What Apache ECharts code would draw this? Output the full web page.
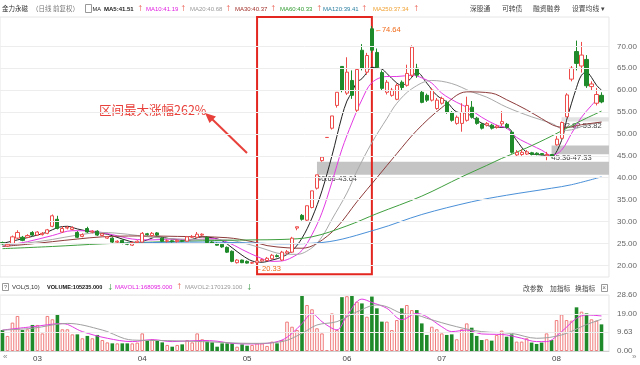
<!DOCTYPE html>
<html><head><meta charset="utf-8">
<script src="https://cdn.jsdelivr.net/npm/echarts@6/dist/echarts.min.js"></script>
<style>html,body{margin:0;padding:0;background:#fff}#c{width:640px;height:365px}</style>
</head><body><div id="c"></div>
<script>
// ---------- DATA ----------
const tradingDays = {
  '02': [20,21,22,25,26,27,28],
  '03': [1,4,5,6,7,8,11,12,13,14,15,18,19,20,21,22,25,26,27,28,29],
  '04': [1,2,3,4,8,9,10,11,12,15,16,17,18,19,22,23,24,25,26,29,30],
  '05': [6,7,8,9,10,13,14,15,16,17,20,21,22,23,24,27,28,29,30,31],
  '06': [3,4,5,6,10,11,12,13,14,17,18,19,20,21,24,25,26,27,28],
  '07': [1,2,3,4,5,8,9,10,11,12,15,16,17,18,19,22,23,24,25,26,29,30,31],
  '08': [1,2,5,6,7,8,9,12,13,14]
};
const openP = [25.2,24.4,25.0,26.2,26.4,26.4,27.5, 26.9,27.0,27.3,28.9,30.5,27.6,28.5,28.2,27.5,26.6,28.4,27.6,27.8,26.8,26.2,26.2,25.3,25.7,25.0,24.6,25.2,
  25.3,27.2,26.8,27.4,26.2,25.5,25.6,25.4,25.6,25.5,26.4,26.4,26.9,26.4,25.3,25.0,24.8,24.1,23.2,20.6,21.2,
  20.9,20.5,20.6,21.0,21.1,21.5,22.2,21.2,22.8,23.0,28.5,31.4,30.3,33.2,37.6,43.9,49.17,51.3,56.5,65.4,
  59.3,62.2,55.4,69.1,64.1,74.0,68.6,64.0,59.5,58.8,57.9,61.8,61.1,63.4,65.0,59.5,58.8,57.7,55.8,
  57.0,57.2,54.9,52.4,52.4,53.1,56.1,53.6,52.2,52.0,52.0,51.5,52.3,52.2,50.4,45.2,45.3,45.4,45.7,45.6,45.5,45.0,45.3,
  47.5,49.0,53.9,62.5,68.8,65.5,67.0,60.8,57.0,58.8];
const closeP = [24.9,24.8,26.5,27.5,25.7,26.8,26.9, 27.6,27.3,28.1,31.3,28.4,28.4,28.7,28.6,26.4,27.0,27.6,27.8,26.9,27.2,26.5,25.3,25.5,25.0,24.8,25.2,25.5,
  27.3,27.0,27.3,26.9,25.5,25.6,25.4,25.7,25.5,26.5,26.6,27.1,27.1,25.2,25.1,24.6,24.2,23.0,20.9,21.2,20.6,
  20.5,20.6,21.0,21.3,21.6,22.3,22.0,23.0,23.1,26.2,28.8,30.5,33.6,37.0,40.66,44.7,49.2,54.1,59.5,60.0,
  64.1,58.8,64.7,65.0,67.9,69.1,65.2,60.4,61.8,60.0,61.1,60.6,63.8,69.8,63.4,57.2,57.7,60.0,57.7,
  58.1,54.9,53.1,53.8,54.9,56.5,53.8,52.4,51.3,52.4,51.3,51.8,52.8,51.5,45.8,45.8,45.8,45.9,45.3,45.3,45.3,45.3,44.9,
  48.8,52.6,58.9,65.0,66.1,68.0,61.0,61.4,59.0,57.3];
const lowP = [24.7,24.2,24.9,26.0,25.5,26.2,26.7, 26.7,26.8,27.1,28.7,28.2,27.4,28.2,28.0,26.2,26.4,27.4,27.3,26.7,26.6,26.0,25.1,25.1,24.8,24.6,24.4,25.0,
  25.2,26.8,26.6,26.7,25.3,25.2,25.2,25.2,25.3,25.4,26.2,26.2,26.7,25.0,24.9,24.5,24.0,22.8,20.7,20.4,20.5,
  20.4,20.33,20.5,20.8,20.9,21.3,21.8,21.0,22.5,22.8,28.0,30.2,30.0,33.0,37.3,43.64,49.1,51.0,56.0,59.5,
  58.9,58.0,54.8,64.5,63.5,68.5,64.8,60.0,59.0,58.5,57.7,60.0,60.8,63.0,62.8,57.0,57.3,57.4,55.5,
  56.7,54.6,52.8,52.1,50.5,52.8,53.5,52.1,51.0,51.7,51.0,51.2,51.8,51.2,45.5,44.9,45.0,45.2,45.1,45.1,45.1,44.0,44.6,
  47.33,48.8,53.82,62.0,64.5,64.0,60.5,60.0,56.5,57.0];
const highP = [25.4,25.0,26.8,28.0,26.7,27.1,27.8, 27.8,27.6,28.3,31.6,31.3,28.9,29.0,28.9,27.8,27.3,28.8,28.0,28.0,27.4,26.7,26.4,25.7,25.9,25.2,25.4,25.7,
  27.6,27.4,27.6,27.6,26.4,25.9,25.8,25.9,25.8,26.7,26.9,27.6,27.3,26.6,25.5,25.2,25.0,24.3,23.4,21.4,21.3,
  21.1,20.8,21.2,21.5,21.9,22.6,22.5,23.3,23.5,26.5,28.8,31.7,33.6,37.0,40.66,44.7,49.25,54.1,59.5,65.45,
  67.5,64.5,64.7,70.5,68.5,74.64,69.5,64.5,62.3,60.5,61.5,62.2,65.8,70.2,66.0,60.0,59.2,60.5,58.2,
  58.5,57.6,55.2,54.2,57.0,58.5,57.5,53.9,52.5,52.7,52.3,52.1,55.2,52.5,50.8,46.3,46.5,46.3,45.9,45.8,45.6,45.9,45.36,
  49.5,52.82,59.3,65.5,71.3,71.0,68.0,62.0,60.5,59.5];
const volume = [10.7,7.7,14.5,17.9,10.7,11.1,13.3, 13.3,9.0,17.9,16.2,18.7,11.1,11.1,8.5,8.5,6.5,7.7,6.5,8.2,5.6,4.4,3.9,3.9,3.9,3.9,3.9,4.3,
  9.0,5.1,6.0,5.1,4.4,3.1,2.2,3.1,3.4,5.6,4.4,9.0,6.0,4.8,4.4,2.2,3.9,3.9,3.9,2.2,3.4,
  2.7,3.1,3.9,3.9,2.6,4.8,3.9,5.6,15.0,12.4,10.7,28.6,23.5,21.3,11.6,9.0,0.5,19.2,10.7,27.5,
  28.0,28.4,25.2,24.3,17.5,27.8,21.8,15.0,15.0,10.7,15.8,21.8,23.5,20.9,20.9,14.1,8.2,12.4,11.1,
  9.0,8.2,8.5,6.0,11.1,14.1,11.9,7.7,5.6,6.0,5.3,8.2,10.4,7.3,8.5,4.8,4.8,6.5,4.3,3.6,4.3,9.0,5.6,
  15.8,18.7,15.8,15.5,22.3,20.1,19.2,16.2,15.5,13.6];
// moving-average lines: [day index, value]
const ma5 = [[0,25.0],[3,25.8],[6,26.6],[9,27.6],[11,28.6],[13,28.9],[15,28.3],[18,27.6],[21,27.1],[24,26.0],[27,25.2],[29,25.8],[31,26.5],[34,26.0],[37,25.7],[40,26.5],[42,26.3],[44,25.6],[46,24.0],[48,22.3],[50,21.0],[52,20.7],[54,21.2],[56,21.9],[58,23.3],[60,26.2],[62,30.8],[64,37.0],[66,45.0],[68,54.0],[69,57.5],[70,59.5],[71,61.8],[72,62.6],[73,64.0],[74,65.2],[76,64.8],[77,63.8],[79,61.6],[80,61.1],[82,62.9],[83,64.1],[85,61.6],[87,58.8],[89,57.3],[91,55.0],[93,54.7],[95,53.1],[97,52.0],[99,51.5],[101,51.5],[103,48.5],[105,45.8],[107,45.3],[109,45.1],[110,44.9],[112,48.5],[113,53.1],[115,60.6],[116,63.4],[117,64.1],[118,62.9],[119,61.1],[120,60.0]];
const ma10 = [[0,24.4],[5,25.4],[10,26.8],[14,27.9],[18,27.8],[22,27.0],[26,26.0],[30,25.8],[34,26.0],[38,25.8],[42,26.1],[45,25.3],[48,23.6],[51,22.0],[54,20.9],[56,21.0],[58,21.8],[60,23.4],[62,27.0],[64,32.0],[66,39.0],[68,46.5],[70,52.5],[72,57.8],[74,61.7],[77,63.1],[79,63.1],[82,63.4],[84,62.8],[86,61.6],[88,59.3],[91,57.2],[93,56.1],[96,53.8],[99,52.0],[101,51.3],[103,49.2],[106,47.4],[108,46.3],[110,45.1],[112,46.3],[114,50.1],[116,53.8],[118,56.5],[120,59.0]];
const ma20 = [[0,24.6],[5,25.1],[10,25.9],[15,26.9],[20,27.5],[25,27.1],[30,26.4],[35,26.0],[40,25.9],[45,25.8],[48,25.2],[52,23.9],[56,22.6],[59,22.5],[62,24.0],[64,26.5],[66,30.5],[69,36.5],[71,41.5],[74,48.0],[77,53.5],[79,57.0],[82,60.3],[86,62.2],[90,61.5],[94,59.6],[97,58.4],[101,56.1],[106,53.9],[110,52.4],[113,50.8],[117,52.0],[120,52.7]];
const ma30 = [[0,24.3],[5,24.8],[10,25.4],[15,26.0],[20,26.5],[27,26.7],[35,26.6],[45,26.3],[50,25.4],[53,24.5],[57,24.0],[60,23.9],[63,25.0],[67,28.7],[71,34.5],[75,40.0],[79,45.5],[83,50.8],[88,56.0],[93,59.6],[98,59.3],[101,57.8],[105,55.5],[108,53.5],[111,51.7],[113,51.5],[116,52.1],[120,52.7]];
const ma60 = [[0,23.8],[10,24.3],[20,24.9],[30,25.3],[40,25.6],[50,25.8],[56,25.9],[62,26.5],[69,29.0],[75,31.8],[84,35.8],[92,40.2],[97,42.8],[100,44.4],[105,46.8],[110,49.5],[114,51.9],[117,53.6],[120,55.2]];
const ma120 = [[23,25.0],[30,25.2],[40,25.3],[50,25.1],[56,24.9],[64,25.2],[75,28.2],[84,31.6],[94,34.5],[101,36.0],[110,37.6],[114,38.4],[120,40.2]];
const mavol1 = [[0,10.7],[6,12.4],[12,14.0],[16,9.9],[21,6.5],[26,4.8],[30,5.8],[34,4.8],[40,5.4],[43,5.0],[46,3.9],[50,3.6],[53,3.9],[56,5.6],[58,9.0],[60,14.0],[62,19.0],[64,15.0],[66,11.6],[67,10.8],[69,18.0],[72,26.5],[74,24.8],[77,21.8],[80,16.0],[83,19.2],[85,17.5],[88,12.4],[90,9.9],[93,10.7],[96,8.7],[99,8.5],[101,8.2],[104,6.5],[107,4.8],[109,4.8],[112,9.9],[115,16.7],[117,18.4],[120,17.9]];
const mavol2 = [[0,10.7],[6,11.6],[13,14.1],[20,10.7],[26,5.6],[33,5.3],[40,4.8],[50,3.9],[56,4.8],[60,9.0],[63,13.3],[67,15.0],[71,20.0],[75,23.5],[77,22.6],[80,19.2],[83,18.4],[85,16.7],[91,12.4],[96,9.9],[102,9.0],[107,6.5],[112,8.2],[117,13.5],[120,16.2]];
const priceTicks = [20,25,30,35,40,45,50,55,60,65,70];
const volTicks = [0,9.63,19.00,28.60];
const gaps = [[63,40.66,43.64],[110,45.36,47.33],[112,52.82,53.82]];
const rallyRange = [51,74];
const highIdx = 74, lowIdx = 50;

// ---------- BUILD ----------
const dates = [];
const monthStart = new Set();
Object.keys(tradingDays).forEach(m => {
  tradingDays[m].forEach((d, k) => {
    if (k === 0 && m !== '02') monthStart.add(dates.length);
    dates.push('2019-' + m + '-' + String(d).padStart(2,'0'));
  });
});
const categories = dates.concat(['']);
const candle = dates.map((d,i) => [openP[i], closeP[i], lowP[i], highP[i]]);
const UP = '#ee4b4b', DOWN = '#1f8a2a';
const volData = volume.map((v,i) => closeP[i] >= openP[i]
  ? {value:v, itemStyle:{color:'#fff', borderColor:'#f07a7a', borderWidth:1}}
  : {value:v, itemStyle:{color:DOWN}});

const chart = echarts.init(document.getElementById('c'), null, {renderer:'canvas'});
const lineS = (name, data, color, xi, yi) => ({
  name, type:'line', data, xAxisIndex:xi, yAxisIndex:yi, smooth:0.35, showSymbol:false,
  lineStyle:{color, width:1}, silent:true, z:3
});
const gridLines = (vals) => ({
  silent:true, symbol:['none','none'], label:{show:false},
  lineStyle:{color:'#ededed', width:1, type:'solid'},
  data: vals.map(v => ({yAxis:v}))
});
const CJK = '"Noto Sans CJK SC", sans-serif';
const LAT = '"Liberation Sans", Arial, sans-serif';
const T = (x, y, text, fill, size, family, weight) => ({
  type:'text', x, y, silent:true,
  style:{text, fill, fontSize:size, fontFamily:family || CJK, fontWeight:weight || 'normal', verticalAlign:'middle', align:'left'}
});

const gapAreas = gaps.map(g => [
  {xAxis: categories[g[0]], yAxis: g[1], itemStyle:{color: g[2]-g[1] < 1.5 ? '#e2e2e2' : '#c4c4c4'},
   label:{show:true, position:[0,'100%'], align:'left', verticalAlign:'top', formatter: g[1].toFixed(2)+'-'+g[2].toFixed(2), color:'#444', fontSize:7.5, fontFamily:LAT}},
  {yAxis: g[2]}
]);

const option = {
  animation:false,
  backgroundColor:'#fff',
  grid:[
    {left:0, right:31, top:17, height:260, show:true, borderColor:'#e6e6e6', borderWidth:1},
    {left:0, right:31, top:295, height:56, show:true, borderColor:'#e6e6e6', borderWidth:1}
  ],
  xAxis:[
    {type:'category', data:categories, gridIndex:0, axisLine:{show:false}, axisTick:{show:false}, axisLabel:{show:false}, splitLine:{show:false}},
    {type:'category', data:categories, gridIndex:1, axisLine:{lineStyle:{color:'#cfcfcf'}}, axisTick:{show:false}, splitLine:{show:false},
     axisLabel:{interval:(i)=>monthStart.has(i), formatter:(v)=>v.slice(5,7), color:'#444', fontSize:8, margin:4, fontFamily:LAT}}
  ],
  yAxis:[
    {type:'value', gridIndex:0, position:'right', min:17.33, max:76.69, axisLine:{show:false}, axisTick:{show:false}, splitLine:{show:false},
     axisLabel:{customValues:priceTicks, formatter:(v)=>v.toFixed(2), color:'#666', fontSize:8, margin:8, fontFamily:LAT}},
    {type:'value', gridIndex:1, position:'right', min:0, max:28.6, axisLine:{show:false}, axisTick:{show:false}, splitLine:{show:false},
     axisLabel:{customValues:volTicks, formatter:(v)=>v.toFixed(2), color:'#666', fontSize:8, margin:8, fontFamily:LAT}}
  ],
  series:[
    {type:'line', data:[], xAxisIndex:0, yAxisIndex:0, markLine:gridLines(priceTicks), z:0},
    {type:'line', data:[], xAxisIndex:1, yAxisIndex:1, markLine:gridLines(volTicks.slice(1)), z:0},
    {name:'K', type:'candlestick', data:candle, xAxisIndex:0, yAxisIndex:0, barWidth:'72%', z:4,
     itemStyle:{color:'#fff', color0:DOWN, borderColor:UP, borderColor0:DOWN, borderWidth:1},
     markArea:{silent:true, data: gapAreas.concat([[
        {xAxis:categories[rallyRange[0]], yAxis:17.95, itemStyle:{color:'rgba(0,0,0,0)', borderColor:'#e3261f', borderWidth:2}},
        {xAxis:categories[rallyRange[1]]}
     ]])},
     markPoint:{symbol:'circle', symbolSize:1, itemStyle:{color:'rgba(0,0,0,0)'}, silent:true,
       data:[
        {coord:[categories[highIdx], highP[highIdx]], label:{show:true, position:'right', distance:2, offset:[0,4], formatter:'←'+highP[highIdx].toFixed(2), color:'#f06a1a', fontSize:7.5, fontFamily:LAT}},
        {coord:[categories[lowIdx], lowP[lowIdx]], label:{show:true, position:'right', distance:2, offset:[0,5], formatter:'←'+lowP[lowIdx].toFixed(2), color:'#f06a1a', fontSize:7.5, fontFamily:LAT}}
       ]}
    },
    lineS('MA5', ma5, '#222', 0, 0),
    lineS('MA10', ma10, '#e33ae3', 0, 0),
    lineS('MA20', ma20, '#a9a9a9', 0, 0),
    lineS('MA30', ma30, '#8e3b3b', 0, 0),
    lineS('MA60', ma60, '#3f9f3f', 0, 0),
    lineS('MA120', ma120, '#4a90d8', 0, 0),
    {name:'VOL', type:'bar', data:volData, xAxisIndex:1, yAxisIndex:1, barWidth:'72%', z:2},
    lineS('MAVOL1', mavol1, '#e33ae3', 1, 1),
    lineS('MAVOL2', mavol2, '#a0a0a0', 1, 1)
  ],
  graphic:[
    T(2,9,'金力永磁','#333',6.5),
    T(32,9,'（日线 前复权）','#777',6.5),
    {type:'rect', shape:{x:85.5,y:4.5,width:6,height:8}, style:{fill:'#fff', stroke:'#999', lineWidth:1}, silent:true},
    T(92.5,9,'MA','#222',5.6,LAT),
    T(104,9,'MA5:41.51','#222',6,LAT,'bold'),
    T(137,9,'↑','#e84c3d',6.5),
    T(146,9,'MA10:41.19','#e020e0',6,LAT),
    T(180,9,'↑','#e84c3d',6.5),
    T(190,9,'MA20:40.68','#999',6,LAT),
    T(225,9,'↑','#e84c3d',6.5),
    T(235,9,'MA30:40.37','#a0302a',6,LAT),
    T(270,9,'↑','#e84c3d',6.5),
    T(280,9,'MA60:40.33','#2e9a2e',6,LAT),
    T(316,9,'↑','#e84c3d',6.5),
    T(323,9,'MA120:39.41','#2a7fa0',6,LAT),
    T(361,9,'↑','#e84c3d',6.5),
    T(373,9,'MA250:37.34','#f0a030',6,LAT),
    T(413,9,'↑','#e84c3d',6.5),
    T(470,8,'深股通','#444',6.8),
    T(502,8,'可转债','#444',6.8),
    T(533,8,'融资融券','#444',6.8),
    T(572,8,'设置均线 ▾','#444',6.8),
    T(99,110,'区间最大涨幅262%','#e8403a',12.5),
    {type:'line', shape:{x1:247,y1:153,x2:212,y2:119}, style:{stroke:'#e8403a', lineWidth:2}, silent:true},
    {type:'polygon', shape:{points:[[205,113],[216,116.5],[209.5,123]]}, style:{fill:'#e8403a'}, silent:true},
    {type:'rect', shape:{x:2.5,y:283.5,width:6,height:7}, style:{fill:'#fff', stroke:'#999', lineWidth:1}, silent:true},
    T(4,287,'?','#666',5.5,LAT),
    T(12,287,'VOL(5,10)','#333',6,LAT),
    T(47,287,'VOLUME:105235.000','#111',5.6,LAT,'bold'),
    T(107,287,'↓','#1f8a2a',6.5),
    T(115,287,'MAVOL1:168095.000','#e020e0',6,LAT),
    T(176,287,'↑','#e84c3d',6.5),
    T(185,287,'MAVOL2:170129.100','#999',6,LAT),
    T(246,287,'↓','#1f8a2a',6.5),
    T(523,288,'改参数','#444',6.8),
    T(550,288,'加指标','#444',6.8),
    T(575,288,'换指标','#444',6.8),
    {type:'rect', shape:{x:601.5,y:284.5,width:6,height:7}, style:{fill:'#fff', stroke:'#999', lineWidth:1}, silent:true},
    T(602.3,288,'×','#666',6.5,LAT),
    T(3,357,'«','#888',8,LAT),
    T(632,357,'»','#888',8,LAT)
  ]
};
chart.setOption(option);
</script>
</body></html>
